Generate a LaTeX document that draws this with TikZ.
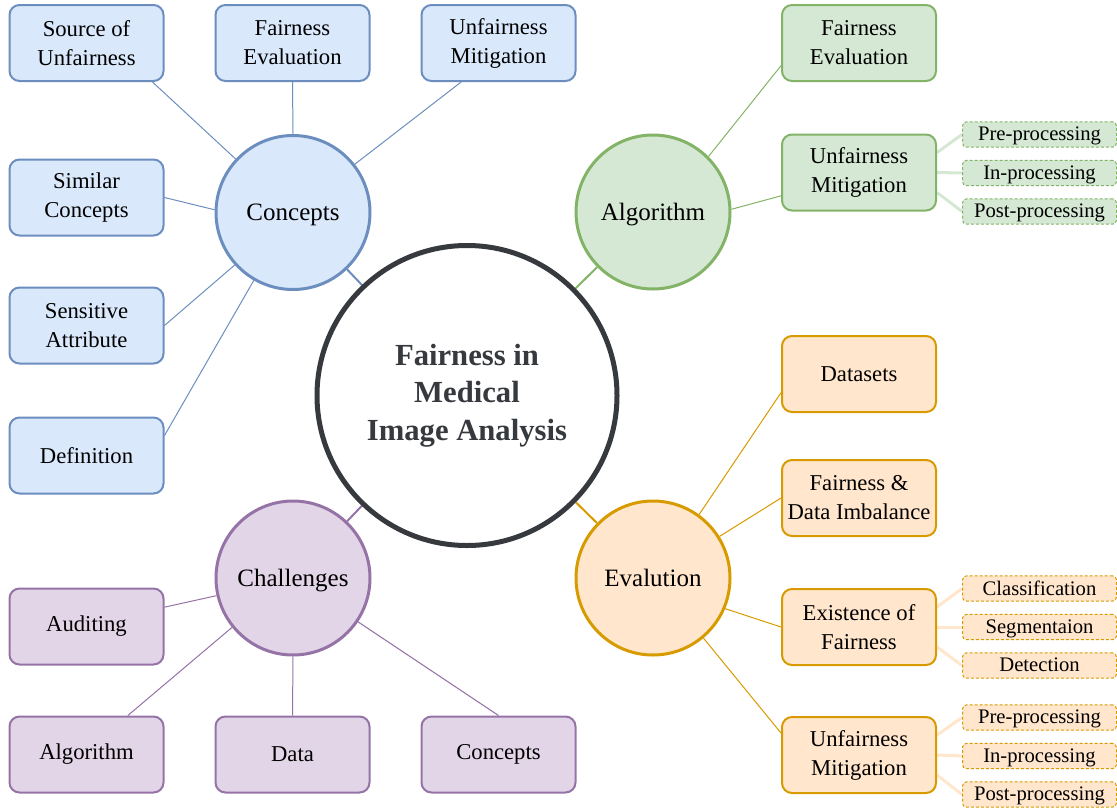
\documentclass[tikz,border=0pt]{standalone}
\usepackage{fontspec}
\IfFontExistsTF{LiberationSerif-Regular.ttf}{\setmainfont{LiberationSerif-Regular.ttf}[BoldFont=LiberationSerif-Bold.ttf]}{\setmainfont{Liberation Serif}}
\usetikzlibrary{backgrounds}
\definecolor{bfill}{HTML}{DAE8FC}\definecolor{bdraw}{HTML}{6C8EBF}
\definecolor{gfill}{HTML}{D5E8D4}\definecolor{gdraw}{HTML}{82B366}
\definecolor{ofill}{HTML}{FFE6CC}\definecolor{odraw}{HTML}{D79B00}
\definecolor{pfill}{HTML}{E1D5E7}\definecolor{pdraw}{HTML}{9673A6}
\definecolor{dark}{HTML}{36393D}
\begin{document}
\begin{tikzpicture}[x=0.75pt,y=-0.75pt,
  box/.style={rectangle, rounded corners=7.5pt, line width=1.5pt, minimum width=115.5pt, minimum height=57pt, align=center, inner sep=0pt, font=\rmfamily\fontsize{17}{21.75}\selectfont},
  sub/.style={rectangle, rounded corners=3pt, dash pattern=on 2.25pt off 1.5pt, line width=0.75pt, minimum width=115.5pt, minimum height=19pt, inner sep=0pt, text depth=1pt, font=\rmfamily\fontsize{15.5}{18}\selectfont},
  hub/.style={circle, line width=2.25pt, minimum size=115.5pt, inner sep=0pt, text depth=0pt, font=\rmfamily\fontsize{18.75}{22}\selectfont},
  bbox/.style={box, fill=bfill, draw=bdraw}, gbox/.style={box, fill=gfill, draw=gdraw},
  obox/.style={box, fill=ofill, draw=odraw}, pbox/.style={box, fill=pfill, draw=pdraw},
  gsub/.style={sub, fill=gfill, draw=gdraw}, osub/.style={sub, fill=ofill, draw=odraw},
  bline/.style={draw=bdraw, line width=0.75pt}, gline/.style={draw=gdraw, line width=0.75pt},
  oline/.style={draw=odraw, line width=0.75pt}, pline/.style={draw=pdraw, line width=0.75pt},
  gsline/.style={draw=gfill, line width=2.25pt}, osline/.style={draw=ofill, line width=2.25pt}]
\useasboundingbox (0,0) rectangle (1117,811);
% hubs
\node[circle, draw=dark, fill=white, line width=3.75pt, minimum size=225pt, inner sep=0pt, align=center, text=dark, font=\rmfamily\bfseries\fontsize{23}{28}\selectfont] (central) at (467,395.5) {Fairness in\\Medical\\Image Analysis};
\node[hub, fill=bfill, draw=bdraw] (concepts) at (293,212.5) {Concepts};
\node[hub, fill=gfill, draw=gdraw] (algorithm) at (653,212) {Algorithm};
\node[hub, fill=pfill, draw=pdraw] (challenges) at (293,578) {Challenges};
\node[hub, fill=ofill, draw=odraw] (evalution) at (653,578) {Evalution};
% concepts boxes
\node[bbox] (src) at (86.5,43) {Source of\\Unfairness};
\node[bbox] (bfe) at (292.5,43) {Fairness\\Evaluation};
\node[bbox] (bum) at (498.5,43) {Unfairness\\Mitigation};
\node[bbox] (sim) at (86.5,197.5) {Similar\\Concepts};
\node[bbox] (sens) at (86.5,325.5) {Sensitive\\Attribute};
\node[bbox] (def) at (86.5,455.5) {Definition};
% algorithm boxes
\node[gbox] (gfe) at (859,43) {Fairness\\Evaluation};
\node[gbox] (gum) at (859,172.5) {Unfairness\\Mitigation};
\node[gsub] (gpre) at (1039.5,134.5) {Pre-processing};
\node[gsub] (gin) at (1039.5,173) {In-processing};
\node[gsub] (gpost) at (1039.5,211.5) {Post-processing};
% evaluation boxes
\node[obox] (ds) at (859,374) {Datasets};
\node[obox] (fdi) at (859,498) {Fairness \&\\Data Imbalance};
\node[obox] (eof) at (859,627) {Existence of\\Fairness};
\node[obox] (oum) at (859,755) {Unfairness\\Mitigation};
\node[osub] (cls) at (1039.5,588.5) {Classification};
\node[osub] (seg) at (1039.5,627) {Segmentaion};
\node[osub] (det) at (1039.5,665.5) {Detection};
\node[osub] (opre) at (1039.5,717.5) {Pre-processing};
\node[osub] (oin) at (1039.5,756) {In-processing};
\node[osub] (opost) at (1039.5,794.5) {Post-processing};
% challenges boxes
\node[pbox] (aud) at (86.5,626.5) {Auditing};
\node[pbox] (palg) at (86.5,754.5) {Algorithm};
\node[pbox] (data) at (292.5,754.5) {Data};
\node[pbox] (pconc) at (498.5,754.5) {Concepts};
\begin{scope}[on background layer]
% hub to central
\draw[draw=bdraw, line width=1.5pt] (concepts) -- (central);
\draw[draw=gdraw, line width=1.5pt] (algorithm) -- (central);
\draw[draw=pdraw, line width=1.5pt] (challenges) -- (central);
\draw[draw=odraw, line width=1.5pt] (evalution) -- (central);
% concepts
\draw[bline] ([xshift=-9pt]src.south east) -- (concepts.137);
\draw[bline] (bfe.south) -- (concepts.90);
\draw[bline] ([xshift=-28pt]bum.south) -- (concepts.38);
\draw[bline] (sim.east) -- (concepts.178);
\draw[bline] (sens.east) -- (concepts.222);
\draw[bline] ([yshift=15pt]def.east) -- (concepts.240);
% algorithm
\draw[gline] ([yshift=-17pt]gfe.west) -- (algorithm.45);
\draw[gline] ([yshift=-17.5pt]gum.west) -- (algorithm.2);
\draw[gsline] ([yshift=15pt]gum.east) -- (gpre.west);
\draw[gsline] (gum.east) -- (gin.west);
\draw[gsline] ([yshift=-15pt]gum.east) -- (gpost.west);
% evaluation
\draw[oline] ([yshift=-14pt]ds.west) -- (evalution.54);
\draw[oline] (fdi.west) -- (evalution.32);
\draw[oline] (eof.west) -- (evalution.337);
\draw[oline] ([yshift=16.5pt]oum.west) -- (evalution.310);
\draw[osline] ([yshift=15pt]eof.east) -- (cls.west);
\draw[osline] (eof.east) -- (seg.west);
\draw[osline] ([yshift=-15pt]eof.east) -- (det.west);
\draw[osline] ([yshift=15pt]oum.east) -- (opre.west);
\draw[osline] (oum.east) -- (oin.west);
\draw[osline] ([yshift=-15pt]oum.east) -- (opost.west);
% challenges
\draw[pline] ([yshift=14.5pt]aud.east) -- (challenges.193);
\draw[pline] ([xshift=31pt]palg.north) -- (challenges.219);
\draw[pline] (data.north) -- (challenges.270);
\draw[pline] (pconc.north) -- (challenges.326);
\end{scope}
\end{tikzpicture}
\end{document}
